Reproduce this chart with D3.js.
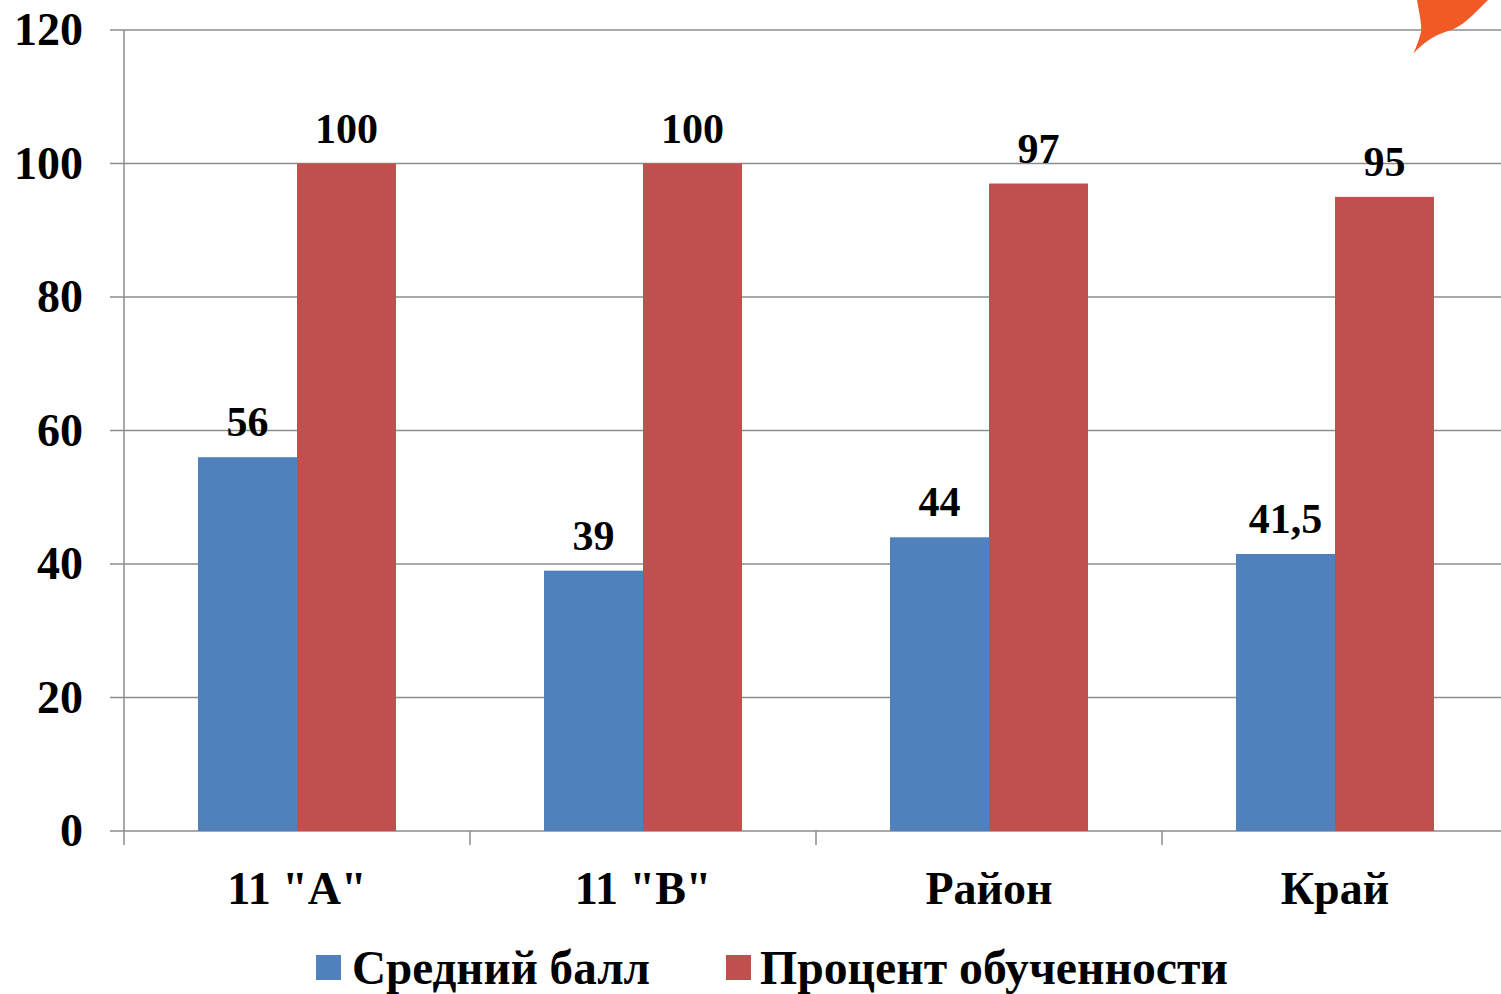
<!DOCTYPE html>
<html>
<head>
<meta charset="utf-8">
<script src="https://cdn.jsdelivr.net/npm/d3@7"></script>
<style>
  body { margin: 0; background: #fff; }
  text { font-family: "Liberation Serif", "Times New Roman", serif; font-weight: bold; fill: #000; }
</style>
</head>
<body>
<div id="chart"></div>
<script>
// data
var categories = ["11 \"А\"", "11 \"В\"", "Район", "Край"];
var seriesNames = ["Средний балл", "Процент обученности"];
var avgScore = [56, 39, 44, 41.5];
var percentLearned = [100, 100, 97, 95];
var yTicks = [0, 20, 40, 60, 80, 100, 120];

var svgWidth = 1501;
var svgHeight = 994;

var svg = d3.select("#chart")
  .append("svg")
  .attr("width", svgWidth)
  .attr("height", svgHeight);

// Scales
var xScale = d3.scaleBand()
  .domain(categories)
  .range([124, 1508])
  .paddingInner(0)
  .paddingOuter(0);

var xInner = d3.scaleBand()
  .domain(seriesNames)
  .range([74, 74 + 198]);

var yScale = d3.scaleLinear()
  .domain([0, 120])
  .range([831, 30]);

var colors = d3.scaleOrdinal()
  .domain(seriesNames)
  .range(["#4F81BD", "#C0504D"]);

// gridlines
svg.append("g")
  .selectAll("line")
  .data(yTicks)
  .enter()
  .append("line")
  .attr("x1", 110)
  .attr("x2", 1508)
  .attr("y1", d => yScale(d))
  .attr("y2", d => yScale(d))
  .attr("stroke", "#8c8c8c")
  .attr("stroke-width", 1.5);

// decorative orange corner shape
svg.append("path")
  .attr("d", "M1417,0 C1419,12 1422,24 1421,32 C1419,40 1416,48 1413,54 C1422,44 1432,36 1448,31 C1462,27 1472,16 1488,0 Z")
  .attr("fill", "#F15A24");

// y axis line
svg.append("line")
  .attr("x1", 124).attr("x2", 124)
  .attr("y1", yScale(120)).attr("y2", yScale(0) + 14)
  .attr("stroke", "#8c8c8c")
  .attr("stroke-width", 1.5);

// category separator ticks
svg.append("g")
  .selectAll("line")
  .data(categories.slice(1))
  .enter()
  .append("line")
  .attr("x1", d => xScale(d))
  .attr("x2", d => xScale(d))
  .attr("y1", yScale(0))
  .attr("y2", yScale(0) + 14)
  .attr("stroke", "#8c8c8c")
  .attr("stroke-width", 1.5);

// y tick labels
svg.append("g")
  .selectAll("text")
  .data(yTicks)
  .enter()
  .append("text")
  .attr("x", 83)
  .attr("y", d => yScale(d) + 15)
  .attr("text-anchor", "end")
  .style("font-size", "46px")
  .text(d => d);

// bars
var rows = categories.map(function(c, i) {
  return { cat: c, values: [
    { name: seriesNames[0], value: avgScore[i] },
    { name: seriesNames[1], value: percentLearned[i] }
  ] };
});

var groups = svg.selectAll(".cat")
  .data(rows)
  .enter()
  .append("g")
  .attr("class", "cat")
  .attr("transform", d => `translate(${xScale(d.cat)},0)`);

groups.selectAll("rect")
  .data(d => d.values)
  .enter()
  .append("rect")
  .attr("x", d => xInner(d.name))
  .attr("y", d => yScale(d.value))
  .attr("width", xInner.bandwidth())
  .attr("height", d => yScale(0) - yScale(d.value))
  .attr("fill", d => colors(d.name));

groups.selectAll("text")
  .data(d => d.values)
  .enter()
  .append("text")
  .attr("x", d => xInner(d.name) + xInner.bandwidth() / 2)
  .attr("y", d => yScale(d.value) - 21)
  .attr("text-anchor", "middle")
  .style("font-size", "42px")
  .text(d => String(d.value).replace(".", ","));

// category labels
svg.append("g")
  .selectAll("text")
  .data(categories)
  .enter()
  .append("text")
  .attr("x", d => xScale(d) + xScale.bandwidth() / 2)
  .attr("y", 904)
  .attr("text-anchor", "middle")
  .style("font-size", "46px")
  .text(d => d);

// legend
var legendItems = [
  { name: seriesNames[0], sx: 316, tx: 352, len: 298 },
  { name: seriesNames[1], sx: 726, tx: 760, len: 468 }
];

legendItems.forEach(function(item) {
  svg.append("rect")
    .attr("x", item.sx)
    .attr("y", 955)
    .attr("width", 25)
    .attr("height", 25)
    .attr("fill", colors(item.name));
  svg.append("text")
    .attr("x", item.tx)
    .attr("y", 984)
    .attr("textLength", item.len)
    .attr("lengthAdjust", "spacingAndGlyphs")
    .style("font-size", "48px")
    .text(item.name);
});
</script>
</body>
</html>
